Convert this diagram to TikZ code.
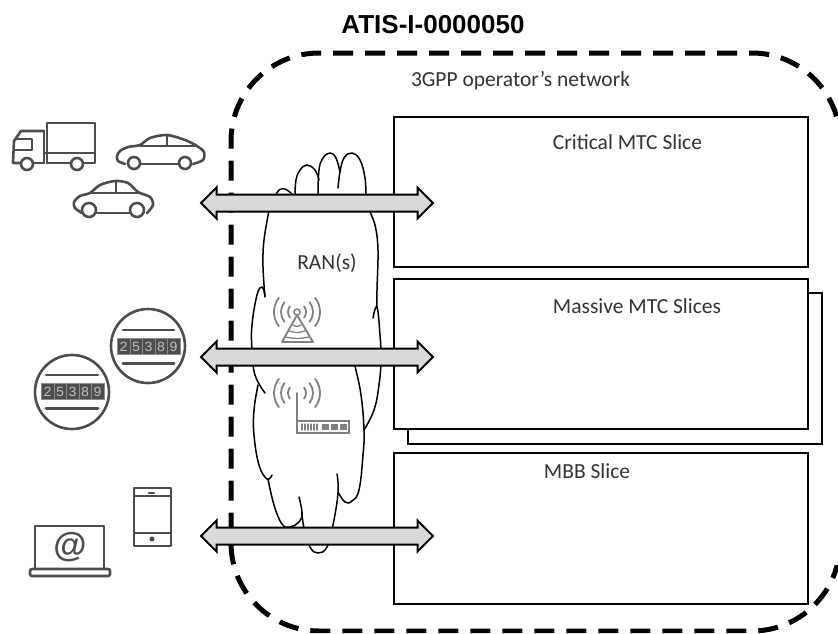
\documentclass[tikz,border=0pt]{standalone}
\usepackage{fontspec}
\setmainfont{Carlito}
\newfontfamily\titlefont{Liberation Sans}
\newfontfamily\digitfont{Liberation Mono}
\usetikzlibrary{shapes.arrows}
\definecolor{iconc}{HTML}{4D4D4D}
\definecolor{wavec}{HTML}{808080}
\definecolor{arrowc}{HTML}{D9D9D9}
\tikzset{
  slicebox/.style={draw=black,line width=2pt,fill=white,minimum width=414pt,inner sep=0pt},
  border/.style={draw=black,line width=5pt,dash pattern=on 20pt off 12pt,dash phase=7pt,rounded corners=88pt},
  cloudline/.style={draw=black,line width=1.5pt,line cap=round},
  icon/.style={draw=iconc,line width=2.6pt,line cap=round,line join=round},
  wave/.style={draw=wavec,line width=1.8pt,line cap=round},
  bigarrow/.style={shape=double arrow,draw=black,fill=arrowc,line width=2pt,minimum height=232pt,minimum width=29pt,double arrow head extend=7pt,inner xsep=0pt,inner ysep=7.5pt,double arrow tip angle=90},
  lbl/.style={text=black!80,font=\fontsize{21.5}{24}\selectfont,inner sep=0pt},
  digit/.style={draw=black!45,line width=.4pt,text=black!25,fill=iconc,font=\digitfont\fontsize{14}{15}\selectfont,inner sep=0pt,minimum width=12.5pt,minimum height=16pt}
}
\begin{document}
\begin{tikzpicture}[x=1pt,y=-1pt]
\useasboundingbox (0,0) rectangle (838,633);
\node[font=\titlefont\bfseries\fontsize{26}{28}\selectfont,inner sep=0pt] (title) at (433,25) {ATIS-I-0000050};
% network boundary
\begin{scope}
\clip (0,0) -- (838,0) -- (838,120) -- (826,120) -- (826,565) -- (838,565) -- (838,633) -- (0,633) -- cycle;
\draw[border] (840,141) -- (840,53) -- (231,53) -- (231,631) -- (840,631) -- (840,543);
\end{scope}
\node[lbl] (net) at (520.5,81) {3GPP operator’s network};
% slices
\node[slicebox,minimum height=151pt] (back) at (615,368) {};
\node[slicebox,minimum height=150pt] (critical) at (601,192) {};
\node[slicebox,minimum height=150pt] (massive) at (601,354) {};
\node[slicebox,minimum height=151pt] (mbb) at (601,528) {};
\node[lbl] (lcrit) at (627.5,142) {Critical MTC Slice};
\node[lbl] (lmass) at (637,306) {Massive MTC Slices};
\node[lbl] (lmbb) at (587,471) {MBB Slice};
% cloud
\draw[cloudline] plot[smooth,tension=.6] coordinates {(270,205)(264,240)(263,267)(265,297)};
\draw[cloudline] plot[smooth,tension=.7] coordinates {(265,296)(262,287)(257,295)(252,325)(252,350)(255,375)(265,393)};
\draw[cloudline] plot[smooth,tension=.7] coordinates {(258,385)(254,410)(254,435)(259,465)(267,479)(272,475)};
\draw[cloudline] plot[smooth,tension=.7] coordinates {(268,479)(274,505)(282,524)(290,527)(299,522)(302,513)(299,497)};
\draw[cloudline] plot[smooth,tension=.7] coordinates {(302,513)(304,528)(310,547)(318,553)(327,547)(333,525)(338,493)(337,474)};
\draw[cloudline] plot[smooth,tension=.7] coordinates {(338,492)(345,502)(352,501)(359,490)(363,455)(364,430)(361,395)(355,366)(352,355)};
\draw[cloudline] plot[smooth,tension=.7] coordinates {(364,430)(374,410)(379,385)(381,360)(380,335)(377,307)(373,318)};
\draw[cloudline] plot[smooth,tension=.6] coordinates {(377,307)(377,290)(378,250)(375,225)(368,208)};
\draw[cloudline] plot[smooth,tension=.7] coordinates {(366,198)(365,178)(360,160)(352,153)(344,158)(340,172)(338,188)};
\draw[cloudline] plot[smooth,tension=.7] coordinates {(340,172)(336,158)(330,153)(323,158)(319,170)(318,195)};
\draw[cloudline] plot[smooth,tension=.7] coordinates {(319,180)(315,170)(307,165)(300,170)(296,180)(295,195)};
\draw[cloudline] plot[smooth,tension=.7] coordinates {(292,194)(285,189)(279,190)(276,195)};
\node[lbl] (ran) at (327,263) {RAN(s)};
% tower
\foreach \r in {9,16,23}{
  \draw[wave] (297,312) ++(38:\r) arc[start angle=38,end angle=-38,radius=\r];
  \draw[wave] (297,312) ++(142:\r) arc[start angle=142,end angle=218,radius=\r];
}
\draw[wave,line width=1.5pt] (297,312) circle[radius=3];
\draw[wave,line join=round] (282,342) -- (297,315) -- (313,342) -- cycle;
\foreach \yy/\dx in {325/4,331/8,337/12}{
  \draw[wave,line width=1.3pt] (297-\dx,\yy) .. controls (297,\yy+2) .. (297+\dx,\yy);
}
% router
\foreach \r in {9,16,23}{
  \draw[wave] (297,393) ++(38:\r) arc[start angle=38,end angle=-38,radius=\r];
  \draw[wave] (297,393) ++(142:\r) arc[start angle=142,end angle=218,radius=\r];
}
\draw[wave] (297,393) -- (297,422);
\draw[wave,line width=1.6pt] (297,421) rectangle (349,433);
\foreach \xx in {302,305,308,311,314,317}{\draw[wave,line width=1.3pt] (\xx,424) -- (\xx,430);}
\foreach \xx in {322,331,340}{\fill[wavec] (\xx,424) rectangle (\xx+6.5,430);}
% truck
\draw[icon] (47,163) -- (47,123) -- (95,123) -- (95,163) -- (84,163);
\draw[icon] (44,153) -- (95,153);
\draw[icon] (47,163) -- (70,163);
\draw[icon] (44,131) -- (44,163);
\draw[icon] (44,131) -- (21,131) -- (14,141) -- (13,163) -- (20,163);
\draw[icon] (33,163) -- (44,163);
\draw[icon] (17,139) -- (32,139) -- (32,150) -- (15,150);
\draw[icon] (27,164) circle[radius=6];
\draw[icon] (77,164) circle[radius=6];
% car 1
\draw[icon] plot[smooth,tension=.5] coordinates {(125,164)(118,161)(117,156)(120,151)(128,147)(140,145)(150,138)(167,135)(185,140)(197,146)(204,152)(203,160)(193,164)};
\draw[icon] (140,164) -- (178,164);
\draw[icon] (140,146) -- (197,146);
\draw[icon] (167,135) -- (167,146);
\draw[icon] (134,163) circle[radius=6];
\draw[icon] (185,163) circle[radius=6];
% car 2
\draw[icon] plot[smooth,tension=.5] coordinates {(82,213)(75,208)(74,202)(80,196)(90,193)(100,185)(115,181)(128,183)(138,192)(150,197)(153,205)(147,213)};
\draw[icon] (97,213) -- (130,213);
\draw[icon] (90,193) -- (138,193);
\draw[icon] (116,181) -- (116,193);
\draw[icon] (89,210) circle[radius=7];
\draw[icon] (137,210) circle[radius=7];
% meters
\draw[icon] (148,346) circle[radius=37];
\draw[icon] (123,330) -- (174,330);
\draw[icon,line width=3pt] (123,363) -- (174,363);
\node[digit] (a1) at (123.5,346.5) {2};
\node[digit] (a2) at (136,346.5) {5};
\node[digit] (a3) at (148.5,346.5) {3};
\node[digit] (a4) at (161,346.5) {8};
\node[digit] (a5) at (173.5,346.5) {9};
\draw[icon] (72,392) circle[radius=37];
\draw[icon] (46,375) -- (98,375);
\draw[icon,line width=3pt] (46,408) -- (98,408);
\node[digit] (b1) at (47.5,391.5) {2};
\node[digit] (b2) at (60,391.5) {5};
\node[digit] (b3) at (72.5,391.5) {3};
\node[digit] (b4) at (85,391.5) {8};
\node[digit] (b5) at (97.5,391.5) {9};
% phone
\draw[icon] (134,488) rectangle (171,546);
\draw[icon] (134,496) -- (171,496);
\draw[icon] (134,533) -- (171,533);
\draw[icon] (149,493) -- (154,493);
\fill[iconc] (152,539) circle[radius=2.5];
% laptop
\draw[icon] (35,568) -- (35,526) -- (104,526) -- (104,568);
\draw[icon,rounded corners=2pt] (30,569) rectangle (110,576);
\node[text=iconc,font=\titlefont\bfseries\fontsize{34}{36}\selectfont,inner sep=0pt] (at) at (70,547) {@};
% arrows
\node[bigarrow] (a) at (317,203) {};
\node[bigarrow] (b) at (317,357) {};
\node[bigarrow] (c) at (317,536) {};
\end{tikzpicture}
\end{document}
